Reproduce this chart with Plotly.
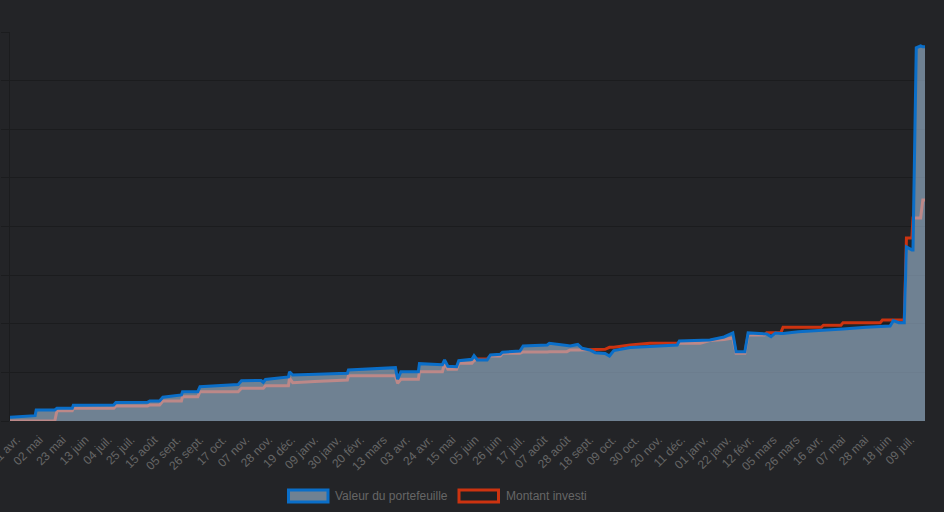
import plotly.graph_objects as go

# ---------------- data ----------------
dates = [
    "2021-04-05", "2021-04-28", "2021-04-29", "2021-05-16", "2021-05-18", "2021-06-01",
    "2021-06-02", "2021-07-09", "2021-07-11", "2021-08-09", "2021-08-11", "2021-08-20",
    "2021-08-23", "2021-09-09", "2021-09-10", "2021-09-24", "2021-09-26", "2021-10-14",
    "2021-10-31", "2021-11-03", "2021-11-21", "2021-11-23", "2021-11-25", "2021-12-16",
    "2021-12-17", "2021-12-20", "2022-01-09", "2022-01-23", "2022-02-08", "2022-02-09",
    "2022-03-05", "2022-03-24", "2022-03-26", "2022-03-29", "2022-04-14", "2022-04-15",
    "2022-05-06", "2022-05-08", "2022-05-11", "2022-05-19", "2022-05-21", "2022-06-02",
    "2022-06-04", "2022-06-07", "2022-06-16", "2022-06-19", "2022-06-28", "2022-06-30",
    "2022-07-16", "2022-07-19", "2022-08-10", "2022-08-12", "2022-08-28", "2022-08-31",
    "2022-09-07", "2022-09-11", "2022-09-18", "2022-09-23", "2022-10-02", "2022-10-06",
    "2022-10-10", "2022-10-25", "2022-11-12", "2022-12-07", "2022-12-09", "2022-12-28",
    "2023-01-06", "2023-01-19", "2023-01-27", "2023-01-30", "2023-02-07", "2023-02-10",
    "2023-02-25", "2023-02-27", "2023-03-03", "2023-03-07", "2023-03-12", "2023-03-14",
    "2023-03-28", "2023-04-18", "2023-04-20", "2023-05-06", "2023-05-08", "2023-05-29",
    "2023-06-11", "2023-06-13", "2023-06-20", "2023-06-23", "2023-06-28", "2023-07-03",
    "2023-07-05", "2023-07-10", "2023-07-11", "2023-07-14", "2023-07-18", "2023-07-20",
    "2023-07-22",
]

valeur_portefeuille = [
    76, 109, 226, 226, 261, 261,
    323, 329, 381, 385, 412, 412,
    488, 535, 603, 603, 706, 730,
    751, 829, 833, 796, 854, 905,
    1014, 947, 961, 977, 981, 1049,
    1070, 1097, 858, 1014, 1014, 1179,
    1158, 1255, 1126, 1117, 1241, 1270,
    1344, 1255, 1255, 1358, 1372, 1414,
    1440, 1543, 1564, 1599, 1553, 1543,
    1574, 1496, 1461, 1405, 1389, 1337,
    1447, 1512, 1533, 1564, 1646, 1656,
    1667, 1728, 1811, 1426, 1426, 1811,
    1790, 1790, 1735, 1811, 1800, 1800,
    1837, 1862, 1862, 1893, 1893, 1928,
    1940, 1940, 1955, 2064, 2023, 2023,
    3580, 3519, 3519, 7675, 7716, 7695,
    7695,
]

montant_investi = [
    0, 0, 0, 0, 212, 212,
    261, 261, 309, 309, 329, 329,
    412, 412, 500, 500, 603, 603,
    603, 673, 673, 673, 726, 726,
    879, 788, 813, 833, 844, 932,
    932, 932, 776, 858, 858, 1014,
    1014, 1187, 1064, 1064, 1187, 1187,
    1241, 1276, 1276, 1337, 1337, 1393,
    1393, 1420, 1420, 1426, 1426, 1461,
    1461, 1461, 1475, 1475, 1475, 1516,
    1516, 1564, 1599, 1599, 1599, 1599,
    1656, 1677, 1708, 1393, 1393, 1770,
    1770, 1817, 1817, 1817, 1817, 1928,
    1928, 1928, 1969, 1969, 2023, 2023,
    2023, 2078, 2078, 2078, 2078, 2078,
    3765, 3765, 4177, 4177, 4177, 4547,
    4547,
]

tick_dates = [
    "2021-04-11", "2021-05-02", "2021-05-23", "2021-06-13", "2021-07-04", "2021-07-25",
    "2021-08-15", "2021-09-05", "2021-09-26", "2021-10-17", "2021-11-07", "2021-11-28",
    "2021-12-19", "2022-01-09", "2022-01-30", "2022-02-20", "2022-03-13", "2022-04-03",
    "2022-04-24", "2022-05-15", "2022-06-05", "2022-06-26", "2022-07-17", "2022-08-07",
    "2022-08-28", "2022-09-18", "2022-10-09", "2022-10-30", "2022-11-20", "2022-12-11",
    "2023-01-01", "2023-01-22", "2023-02-12", "2023-03-05", "2023-03-26", "2023-04-16",
    "2023-05-07", "2023-05-28", "2023-06-18", "2023-07-09",
]
tick_labels = [
    "11 avr.", "02 mai", "23 mai", "13 juin", "04 juil.", "25 juil.",
    "15 août", "05 sept.", "26 sept.", "17 oct.", "07 nov.", "28 nov.",
    "19 déc.", "09 janv.", "30 janv.", "20 févr.", "13 mars", "03 avr.",
    "24 avr.", "15 mai", "05 juin", "26 juin", "17 juil.", "07 août",
    "28 août", "18 sept.", "09 oct.", "30 oct.", "20 nov.", "11 déc.",
    "01 janv.", "22 janv.", "12 févr.", "05 mars", "26 mars", "16 avr.",
    "07 mai", "28 mai", "18 juin", "09 juil.",
]

series_names = ["Valeur du portefeuille", "Montant investi"]

# ---------------- style ----------------
W, H = 944, 512
ML, MR, MT, MB = 10, 19, 32, 91
BG = "#232427"
GRID = "#1b1c1e"
BLUE = "#0a6ec8"
RED = "#cc3310"
FILL = "rgba(175,205,235,0.55)"
TXT = "#666666"
FONT = "Liberation Sans, Arial, Helvetica, sans-serif"

fig = go.Figure()
fig.add_trace(go.Scatter(
    x=dates, y=montant_investi, name=series_names[1], mode="lines",
    line=dict(color=RED, width=3), showlegend=False, hoverinfo="skip",
))
fig.add_trace(go.Scatter(
    x=dates, y=valeur_portefeuille, name=series_names[0], mode="lines",
    line=dict(color=BLUE, width=3), fill="tozeroy", fillcolor=FILL,
    showlegend=False, hoverinfo="skip",
))

pw, ph = W - ML - MR, H - MT - MB


def px(x):
    return (x - ML) / pw


def py(y):
    return (H - MB - y) / ph


shapes = [
    dict(type="rect", xref="paper", yref="paper", x0=px(288.5), x1=px(328), y0=py(502), y1=py(490),
         line=dict(color=BLUE, width=3), fillcolor=FILL, layer="above"),
    dict(type="rect", xref="paper", yref="paper", x0=px(459), x1=px(498.5), y0=py(502), y1=py(490),
         line=dict(color=RED, width=3), fillcolor="rgba(0,0,0,0.08)", layer="above"),
]
annotations = [
    dict(xref="paper", yref="paper", x=px(333), y=py(496), xanchor="left", yanchor="middle",
         text=series_names[0], showarrow=False, font=dict(size=12, color=TXT, family=FONT)),
    dict(xref="paper", yref="paper", x=px(504), y=py(496), xanchor="left", yanchor="middle",
         text=series_names[1], showarrow=False, font=dict(size=12, color=TXT, family=FONT)),
]

fig.update_layout(
    width=W, height=H,
    margin=dict(l=ML, r=MR, t=MT, b=MB, pad=0),
    paper_bgcolor=BG, plot_bgcolor=BG,
    font=dict(family=FONT, size=12, color=TXT),
    shapes=shapes, annotations=annotations,
    showlegend=False,
    xaxis=dict(
        type="date", range=["2021-04-05", "2023-07-22"],
        tickmode="array", tickvals=tick_dates, ticktext=tick_labels,
        tickangle=-45, showgrid=False, zeroline=False, showline=False,
        ticks="outside", ticklen=6, tickcolor="rgba(0,0,0,0)",
        ticklabeloverflow="allow",
        tickfont=dict(size=12, color=TXT, family=FONT), automargin=False,
    ),
    yaxis=dict(
        range=[0, 8000], tick0=0, dtick=1000, showticklabels=False,
        showgrid=True, gridcolor=GRID, gridwidth=1, zeroline=False,
        ticks="outside", ticklen=8, tickcolor=GRID, showline=True, linecolor=GRID,
        linewidth=1, automargin=False,
    ),
)

fig.write_html(
    "out.html",
    config={"displayModeBar": False},
    post_script="document.body.style.margin='0';document.body.style.background='" + BG + "';",
)
